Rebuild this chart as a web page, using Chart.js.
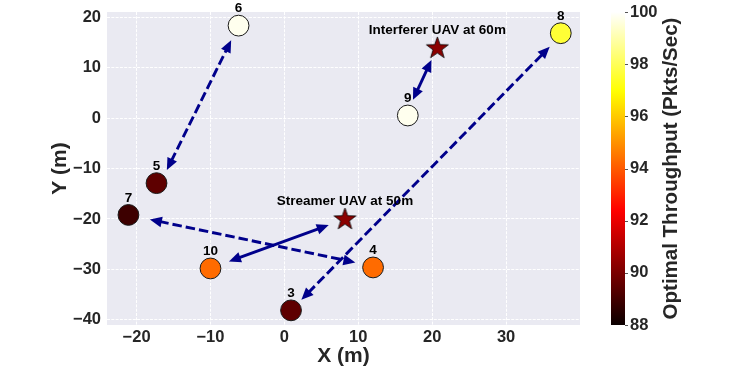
<!DOCTYPE html>
<html><head><meta charset="utf-8">
<script src="https://cdn.jsdelivr.net/npm/chart.js@4.4.1/dist/chart.umd.min.js"></script>
<style>html,body{margin:0;padding:0;background:#fff;}canvas{display:block;}</style>
</head><body>
<canvas id="c" width="747" height="367"></canvas>
<script>
// ---- data ----
const nodeLabels = ['3', '4', '5', '6', '7', '8', '9', '10'];
const nodeX = [0.9, 12.0, -17.3, -6.2, -21.1, 37.4, 16.7, -10.0];
const nodeY = [-38.1, -29.6, -12.9, 18.3, -19.2, 16.8, 0.5, -29.8];
const nodeThroughput = [89.5, 94.3, 89.5, 99.8, 88.9, 97.6, 99.8, 94.3];

const uavLabels = ['Streamer UAV at 50m', 'Interferer UAV at 60m'];
const uavX = [8.2, 20.7];
const uavY = [-20.1, 13.8];

// links (double-headed arrows)
const linkFromX = [-15.9, -18.2, -7.5, 2.3, 17.4];
const linkFromY = [-10.3, -20.1, -28.4, -36.0, 3.6];
const linkToX = [-7.2, 9.6, 6.0, 35.9, 19.9];
const linkToY = [15.4, -28.6, -21.2, 14.1, 11.5];
const linkDashed = [true, true, false, true, false];

const xTicks = [-20, -10, 0, 10, 20, 30];
const yTicks = [-40, -30, -20, -10, 0, 10, 20];
const cbTicks = [88, 90, 92, 94, 96, 98, 100];
const cbMin = 88, cbMax = 100;
const xLabel = 'X (m)', yLabel = 'Y (m)', cbLabel = 'Optimal Throughput (Pkts/Sec)';

// ---- helpers ----
const FONT = "'Liberation Sans', Arial, Helvetica, sans-serif";
const TXT = '#262626';
function hot(v) {
  let t = (v - cbMin) / (cbMax - cbMin);
  t = Math.max(0, Math.min(1, t));
  const a = 0.365079, b = 0.746032;
  const r = t < a ? 0.0416 + (t / a) * 0.9584 : 1;
  const g = t < a ? 0 : (t < b ? (t - a) / (b - a) : 1);
  const bl = t < b ? 0 : (t - b) / (1 - b);
  return `rgb(${Math.round(r*255)},${Math.round(g*255)},${Math.round(bl*255)})`;
}
function fmt(v) { return v < 0 ? '\u2212' + Math.abs(v) : String(v); }
function starCanvas(R, fill) {
  const s = Math.ceil(2 * R + 4);
  const c = document.createElement('canvas');
  c.width = s; c.height = s;
  const g = c.getContext('2d');
  const cx = s / 2, cy = s / 2, r = R * 0.4;
  g.beginPath();
  for (let i = 0; i < 10; i++) {
    const ang = -Math.PI / 2 + i * Math.PI / 5;
    const rr = i % 2 === 0 ? R : r;
    const px = cx + rr * Math.cos(ang), py = cy + rr * Math.sin(ang);
    i === 0 ? g.moveTo(px, py) : g.lineTo(px, py);
  }
  g.closePath();
  g.fillStyle = fill; g.fill();
  g.lineWidth = 0.8; g.strokeStyle = '#000'; g.stroke();
  return c;
}
const starImg = starCanvas(11.5, '#8B0000');

const bgPlugin = {
  id: 'bg',
  beforeDraw(chart) {
    const {ctx, chartArea: a} = chart;
    ctx.save();
    ctx.fillStyle = '#fff';
    ctx.fillRect(0, 0, chart.width, chart.height);
    ctx.fillStyle = '#EAEAF2';
    ctx.fillRect(a.left, a.top, a.right - a.left, a.bottom - a.top);
    ctx.restore();
  }
};

function drawArrow(ctx, x1, y1, x2, y2, dashed) {
  const dx = x2 - x1, dy = y2 - y1, L = Math.hypot(dx, dy);
  const ux = dx / L, uy = dy / L, px = -uy, py = ux;
  const hl = 12, hw = 5.3;
  ctx.save();
  ctx.strokeStyle = '#00008B';
  ctx.fillStyle = '#00008B';
  ctx.lineWidth = 2.9;
  ctx.setLineDash(dashed ? [9.5, 4] : []);
  ctx.beginPath();
  ctx.moveTo(x1 + ux * hl * 0.8, y1 + uy * hl * 0.8);
  ctx.lineTo(x2 - ux * hl * 0.8, y2 - uy * hl * 0.8);
  ctx.stroke();
  ctx.setLineDash([]);
  for (const [tx, ty, s] of [[x2, y2, 1], [x1, y1, -1]]) {
    const bx = tx - s * ux * hl, by = ty - s * uy * hl;
    ctx.beginPath();
    ctx.moveTo(tx, ty);
    ctx.lineTo(bx + px * hw, by + py * hw);
    ctx.lineTo(bx - px * hw, by - py * hw);
    ctx.closePath();
    ctx.fill();
  }
  ctx.restore();
}

const overlayPlugin = {
  id: 'overlay',
  afterDatasetsDraw(chart) {
    const {ctx} = chart;
    const xs = chart.scales.x, ys = chart.scales.y;
    for (let i = 0; i < linkFromX.length; i++) {
      drawArrow(ctx, xs.getPixelForValue(linkFromX[i]), ys.getPixelForValue(linkFromY[i]),
        xs.getPixelForValue(linkToX[i]), ys.getPixelForValue(linkToY[i]), linkDashed[i]);
    }
    ctx.save();
    ctx.fillStyle = '#000';
    ctx.textAlign = 'center';
    ctx.textBaseline = 'middle';
    ctx.font = 'bold 13.5px ' + FONT;
    for (let i = 0; i < nodeLabels.length; i++) {
      ctx.fillText(nodeLabels[i], xs.getPixelForValue(nodeX[i]), ys.getPixelForValue(nodeY[i]) - 17);
    }
    for (let i = 0; i < uavLabels.length; i++) {
      ctx.fillText(uavLabels[i], xs.getPixelForValue(uavX[i]), ys.getPixelForValue(uavY[i]) - 18);
    }
    ctx.restore();
  }
};

const colorbarPlugin = {
  id: 'colorbar',
  afterDraw(chart) {
    const {ctx, chartArea: a} = chart;
    const cb = chart.scales.cb;
    const x0 = a.right + 31, w = 14;
    const top = cb.getPixelForValue(cbMax), bot = cb.getPixelForValue(cbMin);
    const grad = ctx.createLinearGradient(0, bot, 0, top);
    for (let k = 0; k <= 60; k++) {
      const f = k / 60;
      grad.addColorStop(f, hot(cbMin + f * (cbMax - cbMin)));
    }
    ctx.save();
    ctx.fillStyle = grad;
    ctx.fillRect(x0, top, w, bot - top);
    ctx.strokeStyle = '#555';
    ctx.lineWidth = 1;
    for (const v of cbTicks) {
      const y = Math.round(cb.getPixelForValue(v)) + 0.5;
      ctx.beginPath(); ctx.moveTo(x0 + w, y); ctx.lineTo(x0 + w + 3, y); ctx.stroke();
    }
    ctx.translate(a.right + 91, (a.top + a.bottom) / 2);
    ctx.rotate(-Math.PI / 2);
    ctx.fillStyle = TXT;
    ctx.font = 'bold 20.5px ' + FONT;
    ctx.textAlign = 'center';
    ctx.textBaseline = 'middle';
    ctx.fillText(cbLabel, 0, 0);
    ctx.restore();
  }
};

const tickFont = {family: FONT, size: 16.5, weight: 'bold'};
const titleFont = {family: FONT, size: 21, weight: 'bold', lineHeight: 1};
function noPad(s) { s.paddingTop = 0; s.paddingBottom = 0; }

new Chart(document.getElementById('c'), {
  type: 'scatter',
  data: {
    datasets: [
      {
        data: nodeX.map((x, i) => ({x, y: nodeY[i]})),
        pointRadius: 10.4,
        pointBackgroundColor: nodeThroughput.map(hot),
        pointBorderColor: '#1a1a1a',
        pointBorderWidth: 1,
        pointHoverRadius: 10.4
      },
      {
        data: uavX.map((x, i) => ({x, y: uavY[i]})),
        pointStyle: starImg,
        pointRadius: 11
      }
    ]
  },
  options: {
    responsive: false,
    devicePixelRatio: 1,
    animation: false,
    events: [],
    layout: {padding: {top: 12, left: 0, right: 0, bottom: 0}, autoPadding: false},
    plugins: {legend: {display: false}, tooltip: {enabled: false}},
    scales: {
      x: {
        type: 'linear', min: -24, max: 40,
        afterBuildTicks: s => { s.ticks = xTicks.map(v => ({value: v})); },
        afterFit: s => { s.height = 42; s.paddingLeft = 0; s.paddingRight = 0; },
        ticks: {font: tickFont, color: TXT, padding: 3, callback: v => fmt(v)},
        grid: {color: '#ffffff', lineWidth: 1, drawTicks: false},
        border: {display: false, dash: [3, 1.3]},
        title: {display: true, text: xLabel, font: titleFont, color: TXT, padding: {top: 0, bottom: 0}}
      },
      y: {
        type: 'linear', min: -41, max: 21,
        afterBuildTicks: s => { s.ticks = yTicks.map(v => ({value: v})); },
        afterFit: s => { s.width = 107; noPad(s); },
        ticks: {font: tickFont, color: TXT, padding: 6, callback: v => fmt(v)},
        grid: {color: '#ffffff', lineWidth: 1, drawTicks: false},
        border: {display: false, dash: [3, 1.3]},
        title: {display: true, text: yLabel, font: titleFont, color: TXT, padding: {top: 50, bottom: 0}}
      },
      cb: {
        type: 'linear', position: 'right', display: true, min: cbMin, max: cbMax,
        afterBuildTicks: s => { s.ticks = cbTicks.map(v => ({value: v})); },
        afterFit: s => { s.width = 167; noPad(s); },
        ticks: {font: tickFont, color: TXT, padding: 50},
        grid: {display: false, drawTicks: false},
        border: {display: false}
      }
    }
  },
  plugins: [bgPlugin, overlayPlugin, colorbarPlugin]
});
</script>
</body></html>
